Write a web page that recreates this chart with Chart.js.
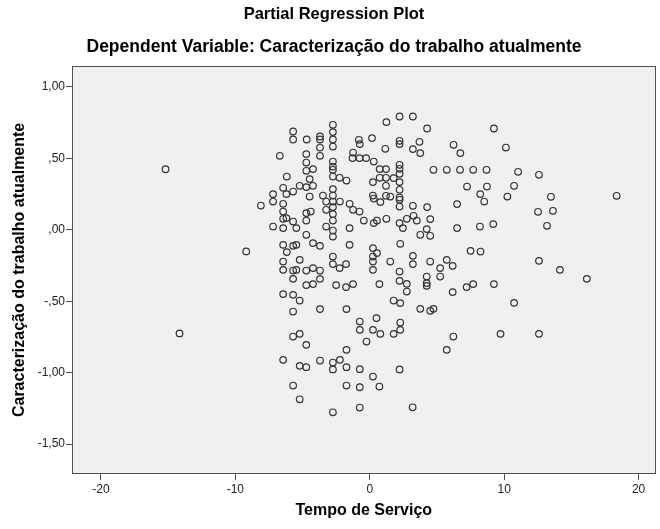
<!DOCTYPE html>
<html><head><meta charset="utf-8">
<script src="https://cdn.jsdelivr.net/npm/chart.js@4/dist/chart.umd.min.js"></script>
<style>html,body{margin:0;padding:0;background:#fff}</style>
</head><body>
<canvas id="c" width="660" height="529"></canvas>
<script>
// Partial regression residuals: Tempo de Serviço (x) vs Caracterização do trabalho atualmente (y)
const tempoServico = [
-2.74,1.24,-5.70,-5.70,-4.69,-3.70,-3.70,-2.74,-2.74,-2.74,-3.70,-3.70,-6.69,-4.72,-4.72,-2.74,-2.74,-0.81,-0.74,0.17,
1.16,-1.24,-1.28,-0.76,-0.27,0.30,0.74,1.21,0.74,1.21,0.24,1.21,-4.72,-4.22,-6.17,-4.47,-2.74,-2.24,-1.73,-2.74,
-5.21,-4.72,-4.22,-6.44,-5.70,-6.20,-7.19,-2.74,-4.47,-3.48,-2.74,0.24,0.30,1.21,0.79,-8.10,-7.19,-6.44,-3.24,-2.22,
-2.74,-2.74,-1.50,-1.24,-0.76,-6.44,-3.24,-4.72,-4.39,-2.74,-6.44,-6.20,-5.70,-4.72,-2.74,-0.44,0.30,0.54,1.24,-7.19,
-6.44,-5.46,-3.24,-2.74,-1.50,-4.72,-2.74,-6.44,-5.70,-5.46,-6.17,-4.22,-3.70,-1.50,0.24,0.54,0.24,0.24,0.24,-6.44,
-5.21,-6.44,-5.70,-5.46,-5.70,-4.72,-4.22,-3.70,-3.70,-4.22,-4.72,-2.74,-2.74,-2.24,-1.76,-2.50,-1.76,-1.24,0.72,-6.44,
-5.70,-5.21,-5.70,-3.70,-1.73,-0.74,0.50,-0.74,0.24,0.79,-0.24,-5.70,-5.21,-4.72,-1.73,-6.44,-5.21,-4.72,-3.70,-2.74,
-2.22,-1.73,-0.74,-2.74,0.24,0.72,-5.70,-1.73,-0.74,-5.21,-2.74,-0.74,2.22,3.21,4.27,9.24,2.22,2.22,3.21,3.70,
3.76,6.24,6.74,10.13,2.22,2.22,2.22,1.78,2.22,4.74,5.73,6.72,7.70,8.69,2.22,2.22,2.22,1.53,2.22,3.21,
4.27,6.50,7.24,8.72,8.22,8.52,10.24,2.22,2.47,2.76,3.26,3.50,4.50,4.24,3.76,4.50,6.50,8.20,9.19,2.27,
7.50,8.24,1.53,3.21,3.21,4.50,5.73,5.24,6.17,5.24,2.22,2.22,2.76,2.76,4.24,4.24,4.24,6.17,7.21,7.70,
9.24,1.78,2.27,3.76,4.50,4.74,2.27,2.27,1.78,6.22,5.73,9.73,2.22,3.19,-15.19,-14.15,-9.19,11.04,10.74,12.59,
13.48,12.52,13.63,13.19,12.59,14.15,16.15,18.37,12.59,10.74
];
const caracterizacao = [
0.735,0.754,0.688,0.632,0.632,0.653,0.632,0.684,0.632,0.583,0.576,0.518,0.518,0.530,0.471,0.478,0.443,0.630,0.600,0.642,
0.567,0.541,0.502,0.502,0.502,0.478,0.425,0.425,0.364,0.364,0.334,0.308,0.413,0.425,0.373,0.355,0.373,0.364,0.345,0.420,
0.308,0.299,0.308,0.294,0.268,0.250,0.250,0.285,0.233,0.240,0.240,0.240,0.219,0.238,0.194,0.170,0.198,0.182,0.198,0.198,
0.198,0.159,0.182,0.140,0.128,0.128,0.140,0.117,0.128,0.110,0.077,0.082,0.058,0.065,0.065,0.065,0.047,0.065,0.077,0.023,
0.012,0.012,0.023,-0.005,0.012,-0.035,-0.047,-0.105,-0.112,-0.105,-0.156,-0.093,-0.112,-0.105,-0.128,-0.163,-0.187,-0.222,-0.280,-0.222,
-0.210,-0.280,-0.285,-0.280,-0.343,-0.285,-0.268,-0.285,-0.343,-0.380,-0.387,-0.187,-0.240,-0.268,-0.240,-0.387,-0.401,-0.380,-0.380,-0.450,
-0.455,-0.495,-0.572,-0.555,-0.555,-0.642,-0.618,-0.700,-0.700,-0.728,-0.782,-0.747,-0.728,-0.805,-0.840,-0.910,-0.952,-0.961,-0.915,-0.929,
-0.910,-0.961,-0.975,-0.977,-1.027,-1.097,-1.090,-1.090,-1.102,-1.186,-1.277,-1.244,0.793,0.793,0.709,0.709,0.623,0.600,0.565,0.616,
0.537,0.595,0.537,0.576,0.455,0.427,0.392,0.362,0.334,0.420,0.420,0.420,0.420,0.420,0.280,0.226,0.210,0.233,0.163,0.168,
0.159,0.180,0.303,0.303,0.250,0.198,0.233,0.047,0.012,0.077,0.098,0.065,0.075,0.005,-0.035,-0.042,0.012,0.023,0.040,-0.098,
-0.147,-0.152,-0.222,-0.182,-0.240,-0.222,-0.210,-0.268,-0.252,-0.327,-0.292,-0.357,-0.378,-0.432,-0.327,-0.373,-0.392,-0.436,-0.401,-0.380,
-0.380,-0.495,-0.513,-0.553,-0.567,-0.553,-0.649,-0.700,-0.728,-0.747,-0.840,-0.728,-0.977,-1.242,0.424,-0.725,-0.151,0.406,0.308,0.385,
0.231,0.126,0.133,0.028,-0.217,-0.280,-0.343,0.238,-0.728,-0.511
];
const xTicks = [-20, -10, 0, 10, 20];
const yTicks = [1, 0.5, 0, -0.5, -1, -1.5];
const yTickLabels = ['1,00', ',50', ',00', '-,50', '-1,00', '-1,50'];

const points = tempoServico.map((x, i) => ({x: x, y: caracterizacao[i]}));
const FONT = "'Liberation Sans', Arial, sans-serif";

const plotFrame = {
  id: 'plotFrame',
  beforeDraw(chart) {
    const {ctx, chartArea: a} = chart;
    ctx.save();
    ctx.fillStyle = '#f0f0f0';
    ctx.fillRect(a.left, a.top, a.right - a.left, a.bottom - a.top);
    ctx.restore();
  },
  afterDatasetsDraw(chart) {
    const {ctx, chartArea: a} = chart;
    ctx.save();
    ctx.strokeStyle = '#505050';
    ctx.lineWidth = 1;
    ctx.strokeRect(Math.round(a.left) + 0.5, Math.round(a.top) + 0.5,
                   Math.round(a.right - a.left) - 1, Math.round(a.bottom - a.top) - 1);
    ctx.restore();
  }
};

new Chart(document.getElementById('c'), {
  type: 'scatter',
  data: {
    datasets: [{
      data: points,
      pointRadius: 3.3,
      pointHoverRadius: 3.3,
      pointBorderWidth: 1.2,
      borderColor: '#333333',
      backgroundColor: 'rgba(0,0,0,0)',
      pointBackgroundColor: 'rgba(0,0,0,0)',
      pointBorderColor: '#333333'
    }]
  },
  options: {
    responsive: false,
    animation: false,
    devicePixelRatio: 1,
    layout: {padding: {left: 10, right: 2, top: 0, bottom: 0}},
    plugins: {
      legend: {display: false},
      tooltip: {enabled: false},
      title: {
        display: true,
        text: 'Partial Regression Plot',
        color: '#000',
        font: {family: FONT, size: 16.5, weight: 'bold'},
        padding: {top: 5, bottom: 0}
      },
      subtitle: {
        display: true,
        text: 'Dependent Variable: Caracterização do trabalho atualmente',
        color: '#000',
        font: {family: FONT, size: 17.5, weight: 'bold'},
        padding: {top: 11.5, bottom: 8.5}
      }
    },
    scales: {
      x: {
        type: 'linear',
        min: -22.15,
        max: 21.26,
        afterBuildTicks: s => { s.ticks = xTicks.map(v => ({value: v})); },
        afterFit: s => { s.height = 55; },
        border: {display: false},
        grid: {drawOnChartArea: false, drawTicks: true, tickLength: 6, color: '#505050', lineWidth: 1},
        ticks: {autoSkip: false, maxRotation: 0, padding: 2, color: '#222',
                font: {family: FONT, size: 12}},
        title: {display: true, text: 'Tempo de Serviço', color: '#000',
                font: {family: FONT, size: 16, weight: 'bold'}, padding: {top: 0, bottom: 8.5}}
      },
      y: {
        type: 'linear',
        min: -1.709,
        max: 1.148,
        afterBuildTicks: s => { s.ticks = yTicks.map(v => ({value: v})); },
        afterFit: s => { s.width = 62; },
        border: {display: false},
        grid: {drawOnChartArea: false, drawTicks: true, tickLength: 6, color: '#505050', lineWidth: 1},
        ticks: {autoSkip: false, padding: 1, color: '#222',
                font: {family: FONT, size: 12},
                callback: v => { const i = yTicks.indexOf(v); return i >= 0 ? yTickLabels[i] : ''; }},
        title: {display: true, text: 'Caracterização do trabalho atualmente', color: '#000',
                font: {family: FONT, size: 16, weight: 'bold'}, padding: {top: 0, bottom: 0}}
      }
    }
  },
  plugins: [plotFrame]
});
</script>
</body></html>
